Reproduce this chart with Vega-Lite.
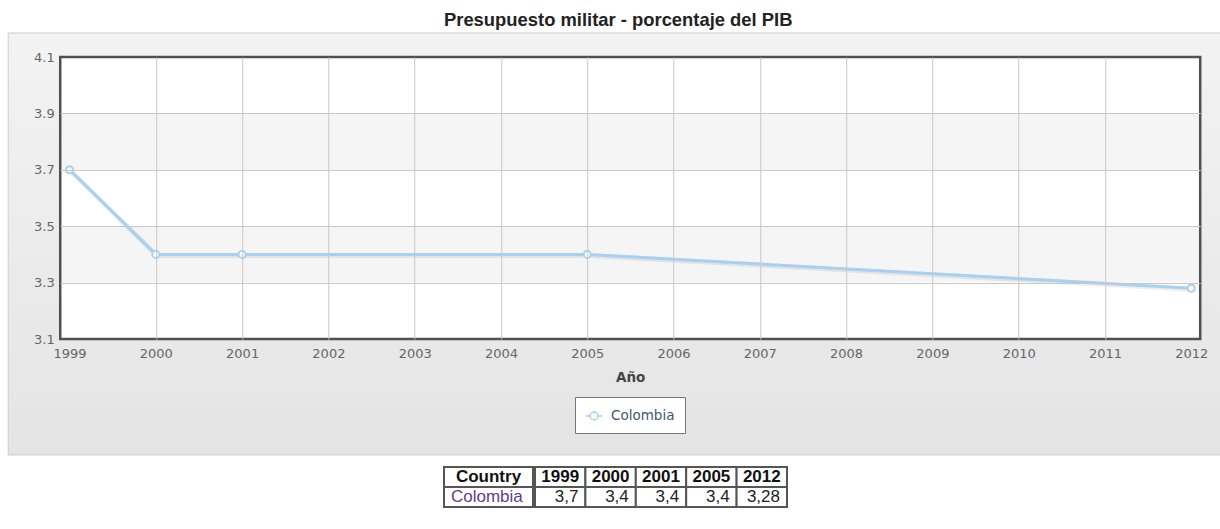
{
  "$schema": "https://vega.github.io/schema/vega-lite/v6.json",
  "background": "white",
  "padding": {"left": 7, "top": 11, "right": 0, "bottom": 0},
  "autosize": {"type": "pad"},
  "datasets": {
    "series": [
      {"country": "Colombia", "year": 1999, "value": 3.7},
      {"country": "Colombia", "year": 2000, "value": 3.4},
      {"country": "Colombia", "year": 2001, "value": 3.4},
      {"country": "Colombia", "year": 2005, "value": 3.4},
      {"country": "Colombia", "year": 2012, "value": 3.28}
    ],
    "bands": [
      {"lo": 3.3, "hi": 3.5},
      {"lo": 3.7, "hi": 3.9}
    ],
    "table": [
      {"r": "h", "c": "Country", "t": "Country"},
      {"r": "h", "c": "1999", "t": "1999"},
      {"r": "h", "c": "2000", "t": "2000"},
      {"r": "h", "c": "2001", "t": "2001"},
      {"r": "h", "c": "2005", "t": "2005"},
      {"r": "h", "c": "2012", "t": "2012"},
      {"r": "d", "c": "Country", "t": "Colombia"},
      {"r": "d", "c": "1999", "t": "3,7"},
      {"r": "d", "c": "2000", "t": "3,4"},
      {"r": "d", "c": "2001", "t": "3,4"},
      {"r": "d", "c": "2005", "t": "3,4"},
      {"r": "d", "c": "2012", "t": "3,28"}
    ]
  },
  "config": {
    "view": {"stroke": null},
    "axis": {
      "domain": false,
      "ticks": false,
      "grid": true,
      "gridColor": "#c8c8c8",
      "gridWidth": 1,
      "labelFont": "DejaVu Sans",
      "labelFontSize": 13,
      "labelColor": "#666666",
      "titleFont": "DejaVu Sans",
      "titleFontWeight": "bold",
      "titleFontSize": 13.5,
      "titleColor": "#444444"
    },
    "axisX": {"labelPadding": 8, "labelFlush": false, "titlePadding": 10, "labelAngle": 0},
    "axisY": {"labelPadding": 6}
  },
  "spacing": 10,
  "center": true,
  "vconcat": [
    {
      "width": 1140,
      "height": 282,
      "title": {
        "text": "Presupuesto militar - porcentaje del PIB",
        "font": "Liberation Sans",
        "fontSize": 18.4,
        "fontWeight": "bold",
        "color": "#222222",
        "anchor": "middle",
        "frame": "group",
        "offset": 3,
        "dx": -12
      },
      "layer": [
        {
          "data": {"values": [{}]},
          "mark": {
            "type": "rect",
            "fill": {"gradient": "linear", "x1": 0, "y1": 0, "x2": 0, "y2": 1, "stops": [{"offset": 0, "color": "#f3f3f3"}, {"offset": 1, "color": "#e4e4e4"}]},
            "stroke": "#cccccc",
            "strokeWidth": 1
          },
          "encoding": {
            "x": {"datum": 1998.289, "type": "quantitative", "scale": {"domain": [1998.892, 2012.104], "nice": false, "zero": false},
              "axis": {"title": "Año", "zindex": 1, "values": [1999, 2000, 2001, 2002, 2003, 2004, 2005, 2006, 2007, 2008, 2009, 2010, 2011, 2012], "format": "d",
                "gridOpacity": {"condition": {"test": "datum.value < 1999.5 || datum.value > 2011.5", "value": 0}, "value": 1}}},
            "x2": {"datum": 2012.348},
            "y": {"datum": 4.1851, "type": "quantitative", "scale": {"domain": [3.1, 4.1], "nice": false, "zero": false},
              "axis": {"title": null, "zindex": 1, "values": [3.1, 3.3, 3.5, 3.7, 3.9, 4.1], "format": ".1f",
                "gridOpacity": {"condition": {"test": "datum.value < 3.15 || datum.value > 4.05", "value": 0}, "value": 1}}},
            "y2": {"datum": 2.6887}
          }
        },
        {
          "data": {"values": [{}]},
          "mark": {"type": "rect", "fill": "white"},
          "encoding": {
            "x": {"datum": 1998.892, "type": "quantitative"},
            "x2": {"datum": 2012.104},
            "y": {"datum": 3.1, "type": "quantitative"},
            "y2": {"datum": 4.1}
          }
        },
        {
          "data": {"name": "bands"},
          "mark": {"type": "rect", "fill": "#f5f5f5"},
          "encoding": {
            "x": {"datum": 1998.892, "type": "quantitative"},
            "x2": {"datum": 2012.104},
            "y": {"field": "lo", "type": "quantitative"},
            "y2": {"field": "hi"}
          }
        },
        {
          "data": {"values": [{}]},
          "mark": {"type": "rect", "fill": "transparent", "stroke": "#505050", "strokeWidth": 2.5},
          "encoding": {
            "x": {"datum": 1998.892, "type": "quantitative"},
            "x2": {"datum": 2012.104},
            "y": {"datum": 3.1, "type": "quantitative"},
            "y2": {"datum": 4.1}
          }
        },
        {
          "data": {"name": "series"},
          "mark": {"type": "line", "color": "black", "opacity": 0.07, "strokeWidth": 5, "xOffset": 1, "yOffset": 1},
          "encoding": {
            "x": {"field": "year", "type": "quantitative"},
            "y": {"field": "value", "type": "quantitative"}
          }
        },
        {
          "data": {"name": "series"},
          "mark": {"type": "line", "color": "#a9d0f0", "strokeWidth": 3},
          "encoding": {
            "x": {"field": "year", "type": "quantitative"},
            "y": {"field": "value", "type": "quantitative"}
          }
        },
        {
          "data": {"name": "series"},
          "mark": {"type": "point", "filled": false, "fill": "white", "size": 50, "strokeWidth": 2, "opacity": 1},
          "encoding": {
            "x": {"field": "year", "type": "quantitative"},
            "y": {"field": "value", "type": "quantitative"},
            "color": {
              "field": "country",
              "type": "nominal",
              "scale": {"domain": ["Colombia"], "range": ["#a9d0f0"]},
              "legend": {
                "orient": "none",
                "legendX": 515,
                "legendY": 340,
                "title": null,
                "symbolType": "M-1,0L-0.5,0M0.5,0L1,0M0.5,0A0.5,0.5,0,1,1,-0.5,0A0.5,0.5,0,1,1,0.5,0Z",
                "symbolSize": 256,
                "symbolStrokeWidth": 1.5,
                "symbolFillColor": "white",
                "fillColor": "white",
                "strokeColor": "#777777",
                "padding": 10,
                "labelOffset": 8,
                "labelFont": "DejaVu Sans",
                "labelFontSize": 13.5,
                "labelColor": "#3e576f"
              }
            }
          }
        }
      ]
    },
    {
      "spacing": 0,
      "hconcat": [
        {
          "width": 89,
          "height": 40,
          "data": {"name": "table"},
          "transform": [{"filter": "datum.c == 'Country'"}],
          "layer": [
            {
              "mark": {"type": "rect", "fill": "white", "stroke": "#555555", "strokeWidth": 2},
              "encoding": {
                "x": {"field": "c", "type": "nominal", "axis": null, "scale": {"domain": ["Country"], "paddingInner": 0, "paddingOuter": 0}},
                "y": {"field": "r", "type": "nominal", "axis": null, "scale": {"domain": ["h", "d"], "paddingInner": 0, "paddingOuter": 0}}
              }
            },
            {
              "transform": [{"filter": "datum.r == 'h'"}],
              "mark": {"type": "text", "font": "Liberation Sans", "fontSize": 17, "fontWeight": "bold", "color": "#111111"},
              "encoding": {
                "x": {"field": "c", "type": "nominal", "axis": null},
                "y": {"field": "r", "type": "nominal", "axis": null},
                "text": {"field": "t"}
              }
            },
            {
              "transform": [{"filter": "datum.r == 'd'"}],
              "mark": {"type": "text", "font": "Liberation Sans", "fontSize": 17, "align": "left", "dx": 7, "color": "#5f3c91"},
              "encoding": {
                "x": {"field": "c", "type": "nominal", "axis": null, "bandPosition": 0},
                "y": {"field": "r", "type": "nominal", "axis": null},
                "text": {"field": "t"}
              }
            }
          ]
        },
        {
          "width": 252,
          "height": 40,
          "data": {"name": "table"},
          "transform": [{"filter": "datum.c != 'Country'"}],
          "layer": [
            {
              "mark": {"type": "rect", "fill": "white", "stroke": "#555555", "strokeWidth": 2},
              "encoding": {
                "x": {"field": "c", "type": "nominal", "axis": null, "scale": {"domain": ["1999", "2000", "2001", "2005", "2012"], "paddingInner": 0, "paddingOuter": 0}},
                "y": {"field": "r", "type": "nominal", "axis": null, "scale": {"domain": ["h", "d"], "paddingInner": 0, "paddingOuter": 0}}
              }
            },
            {
              "transform": [{"filter": "datum.r == 'h'"}],
              "mark": {"type": "text", "font": "Liberation Sans", "fontSize": 17, "fontWeight": "bold", "color": "#111111"},
              "encoding": {
                "x": {"field": "c", "type": "nominal", "axis": null},
                "y": {"field": "r", "type": "nominal", "axis": null},
                "text": {"field": "t"}
              }
            },
            {
              "transform": [{"filter": "datum.r == 'd'"}],
              "mark": {"type": "text", "font": "Liberation Sans", "fontSize": 17, "align": "right", "dx": -7, "color": "#222222"},
              "encoding": {
                "x": {"field": "c", "type": "nominal", "axis": null, "bandPosition": 1},
                "y": {"field": "r", "type": "nominal", "axis": null},
                "text": {"field": "t"}
              }
            }
          ]
        },
        {
          "width": 50,
          "height": 40,
          "view": {"fill": "white", "stroke": null},
          "data": {"values": []},
          "mark": {"type": "text"},
          "encoding": {}
        }
      ]
    }
  ]
}
